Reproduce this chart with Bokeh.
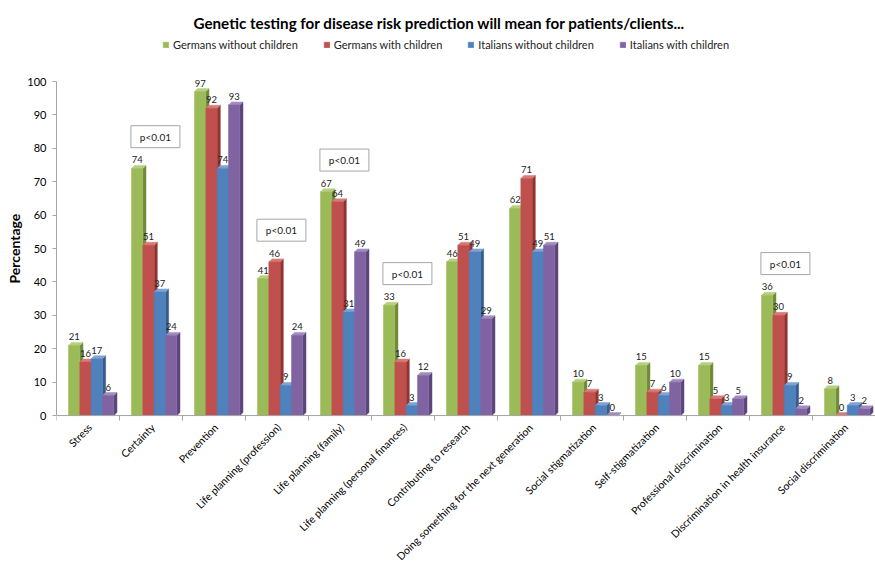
import math
from bokeh.plotting import figure
from bokeh.models import (Range1d, FixedTicker, Legend, LegendItem, ColumnDataSource,
                          Span, Title)
from bokeh.core.properties import value
from bokeh.embed import file_html
from bokeh.resources import INLINE

categories = [
    "Stress", "Certainty", "Prevention", "Life planning (profession)",
    "Life planning (family)", "Life planning (personal finances)",
    "Contributing to research", "Doing something for the next generation",
    "Social stigmatization", "Self-stigmatization", "Professional discrimination",
    "Discrimination in health insurance", "Social discrimination",
]
series_names = ["Germans without children", "Germans with children",
                "Italians without children", "Italians with children"]
germans_without = [21, 74, 97, 41, 67, 33, 46, 62, 10, 15, 15, 36, 8]
germans_with = [16, 51, 92, 46, 64, 16, 51, 71, 7, 7, 5, 30, 0]
italians_without = [17, 37, 74, 9, 31, 3, 49, 49, 3, 6, 3, 9, 3]
italians_with = [6, 24, 93, 24, 49, 12, 29, 51, 0, 10, 5, 2, 2]
significant = ["Certainty", "Life planning (profession)", "Life planning (family)",
               "Life planning (personal finances)", "Discrimination in health insurance"]
p_text = "p<0.01"
y_ticks = list(range(0, 101, 10))
y_title = "Percentage"
main_title = "Genetic testing for disease risk prediction will mean for patients/clients..."

series_values = [germans_without, germans_with, italians_without, italians_with]
front_colors = ["#9BBB59", "#C0504D", "#4F81BD", "#8064A2"]
side_colors = ["#6E8A38", "#8E3532", "#355C8C", "#5A4479"]
top_colors = ["#B7D07E", "#D77B78", "#7FA3D3", "#A38BC0"]

FONT = "Lato"
W, H = 875, 570
X0, X1 = -0.5, 12.5

p = figure(width=W, height=H, output_backend="svg", toolbar_location=None,
           x_axis_location=None,
           x_range=Range1d(X0, X1), y_range=Range1d(-46.4, 113.5),
           min_border_left=56, min_border_right=0, min_border_bottom=0, min_border_top=36)
p.title.text = main_title
p.title.align = "left"
p.title.offset = 137
p.title.text_font = FONT
p.title.text_font_size = "15.2px"
p.title.text_font_style = "bold"
p.title.text_color = "#000000"
p.outline_line_color = None
p.xgrid.visible = False
p.ygrid.visible = False

n = len(categories)
centers = list(range(n))
boundaries = [k - 0.5 for k in range(n + 1)]

# x axis line and category boundary ticks
p.add_layout(Span(location=0, dimension="width", line_color="#A6A6A6", line_width=1))
p.segment(x0=boundaries, y0=[0] * len(boundaries), x1=boundaries, y1=[-1.5] * len(boundaries),
          line_color="#A6A6A6", line_width=1)

bar_w = 0.18
d = 0.05
dy = 0.9
legend_items = []
for i, (name, vals) in enumerate(zip(series_names, series_values)):
    lefts = [k - 0.31 + i * bar_w for k in centers]
    rights = [l + bar_w for l in lefts]
    src = ColumnDataSource(dict(left=lefts, right=rights, top=vals, bottom=[0] * len(vals)))
    side_xs = [[r, r + d, r + d, r] for r in rights]
    side_ys = [[0, dy, v + dy, v] for v in vals]
    top_xs = [[l, l + d, r + d, r] for l, r in zip(lefts, rights)]
    top_ys = [[v, v + dy, v + dy, v] for v in vals]
    p.patches(side_xs, side_ys, fill_color=side_colors[i], line_color=side_colors[i], line_width=0.5)
    p.patches(top_xs, top_ys, fill_color=top_colors[i], line_color=top_colors[i], line_width=0.5)
    r = p.quad(left="left", right="right", top="top", bottom="bottom", source=src,
               fill_color=front_colors[i], line_color=front_colors[i], line_width=0.5)
    legend_items.append(LegendItem(label=name, renderers=[r]))

for i, vals in enumerate(series_values):
    xs = [k - 0.31 + i * bar_w + bar_w / 2 for k in centers]
    p.text(x=xs, y=vals, text=[str(v) for v in vals], text_align="center",
           text_baseline="bottom", y_offset=-5, text_font=value(FONT),
           text_font_size="9.5px", text_color="#222222")

# category labels, rotated, ending at the category centre just below the axis
p.text(x=centers, y=[0] * n, text=categories, angle=math.pi / 4,
       text_align="right", text_baseline="middle", x_offset=2, y_offset=10,
       text_font=value(FONT), text_font_size="10.5px", text_color="#000000")

sig_idx = [categories.index(c) for c in significant]
sig_x = [k + 0.07 for k in sig_idx]
sig_y = [max(s[k] for s in series_values) + 9.5 for k in sig_idx]
p.rect(x=sig_x, y=sig_y, width=49, height=22, width_units="screen", height_units="screen",
       fill_color="white", line_color="#A6A6A6", line_width=1)
p.text(x=sig_x, y=sig_y, text=[p_text] * len(sig_x), text_align="center",
       text_baseline="middle", text_font=value(FONT), text_font_size="10px",
       text_color="#222222")

legend = Legend(items=legend_items, orientation="horizontal", location=(106, 519),
                glyph_width=7, glyph_height=7, label_text_font=FONT,
                label_text_font_size="11px", label_text_color="#222222",
                spacing=25, label_standoff=4, border_line_color=None,
                background_fill_alpha=0, padding=0, margin=0, label_height=12)
p.add_layout(legend)

p.yaxis.ticker = FixedTicker(ticks=y_ticks, minor_ticks=[])
p.yaxis.bounds = (0, 100)
p.yaxis.axis_line_color = "#A6A6A6"
p.yaxis.major_tick_line_color = "#A6A6A6"
p.yaxis.major_tick_out = 4
p.yaxis.major_tick_in = 0
p.yaxis.major_label_text_font = FONT
p.yaxis.major_label_text_font_size = "11px"
p.yaxis.major_label_text_color = "#000000"
p.yaxis.major_label_standoff = 6

ytitle = Title(text=y_title, align="left", offset=287, standoff=4,
               text_font=FONT, text_font_size="14px", text_font_style="bold",
               text_color="#000000")
p.add_layout(ytitle, "left")

open("out.html", "w").write(file_html(p, INLINE))
